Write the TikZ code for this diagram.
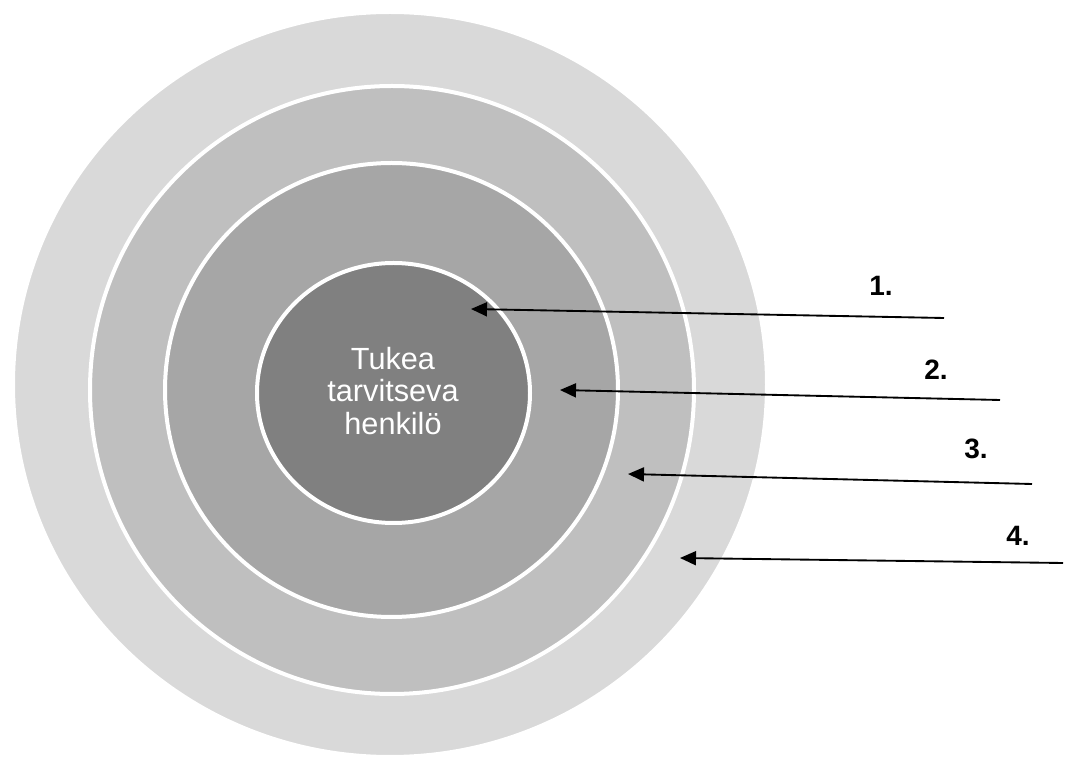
\documentclass[tikz,border=0pt]{standalone}
\usepackage{fontspec}
\setmainfont{Liberation Sans}
\usetikzlibrary{shapes.geometric,arrows.meta}
\definecolor{ringA}{HTML}{D9D9D9}
\definecolor{ringB}{HTML}{BFBFBF}
\definecolor{ringC}{HTML}{A6A6A6}
\definecolor{ringD}{HTML}{808080}
\tikzset{
  ring/.style={ellipse, draw=white, line width=3pt, inner sep=0pt},
  numlabel/.style={font=\fontsize{21pt}{25pt}\selectfont\bfseries, inner sep=0pt},
  pointer/.style={line width=1.4pt, -{Triangle[length=12pt,width=10.5pt]}}
}
\begin{document}
\begin{tikzpicture}[x=0.75pt,y=-0.75pt]
\useasboundingbox (0,0) rectangle (1072,762);
\node[ring, fill=ringA, minimum width={754*0.75pt}, minimum height={745*0.75pt}] (r4) at (390,384.5) {};
\node[ring, fill=ringB, minimum width={604*0.75pt}, minimum height={608*0.75pt}] (r3) at (392,390) {};
\node[ring, fill=ringC, minimum width={453*0.75pt}, minimum height={454*0.75pt}] (r2) at (391.5,390) {};
\node[ring, fill=ringD, minimum width={273*0.75pt}, minimum height={260*0.75pt}] (r1) at (393.5,393) {};
\node[text=white, align=center, inner sep=0pt, font=\fontsize{23pt}{24.4pt}\selectfont] (txt) at (393,391) {Tukea\\tarvitseva\\henkilö};
\node[numlabel] (l1) at (881,286) {1.};
\node[numlabel] (l2) at (936,370) {2.};
\node[numlabel] (l3) at (976,449) {3.};
\node[numlabel] (l4) at (1018,536) {4.};
\coordinate (s1) at (944,318);
\coordinate (t1) at (471,309);
\coordinate (s2) at (1000,400);
\coordinate (t2) at (560,390);
\coordinate (s3) at (1032,484);
\coordinate (t3) at (628,474);
\coordinate (s4) at (1063,563);
\coordinate (t4) at (680,558);
\draw[pointer] (s1) -- (t1);
\draw[pointer] (s2) -- (t2);
\draw[pointer] (s3) -- (t3);
\draw[pointer] (s4) -- (t4);
\end{tikzpicture}
\end{document}
